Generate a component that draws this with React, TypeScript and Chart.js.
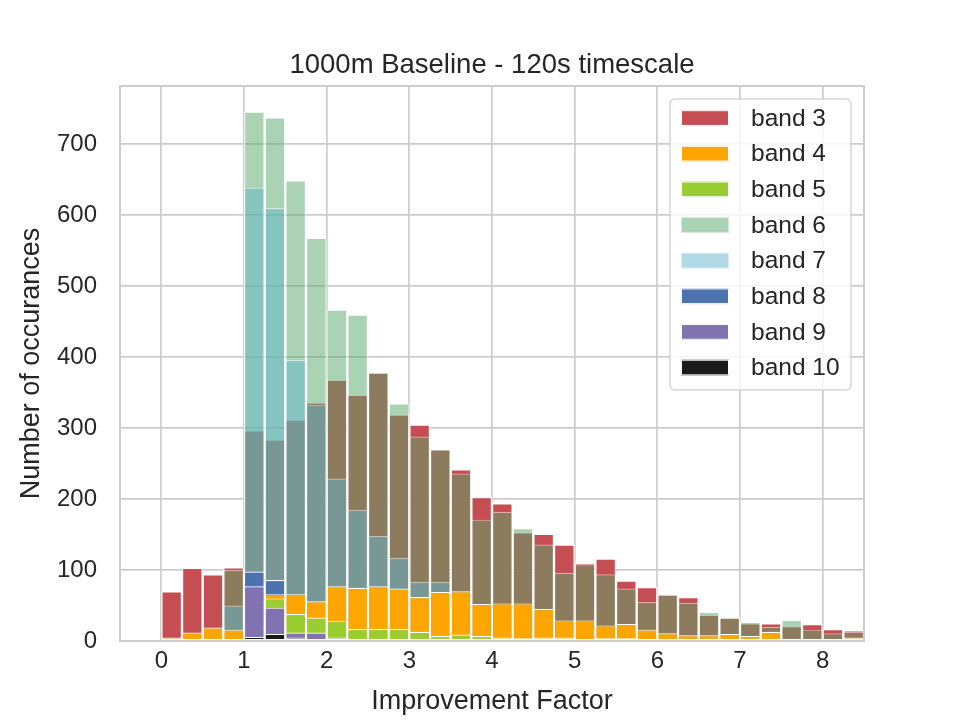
import { useEffect, useRef } from "react";
import { Chart, registerables } from "chart.js";

Chart.register(...registerables);

// ---- data (histogram bins of width 0.25, starting at 0) ----
const binCenters = [
  0.125, 0.375, 0.625, 0.875, 1.125, 1.375, 1.625, 1.875, 2.125, 2.375, 2.625, 2.875,
  3.125, 3.375, 3.625, 3.875, 4.125, 4.375, 4.625, 4.875, 5.125, 5.375, 5.625, 5.875,
  6.125, 6.375, 6.625, 6.875, 7.125, 7.375, 7.625, 7.875, 8.125, 8.375,
];
const xTickValues = [0, 1, 2, 3, 4, 5, 6, 7, 8];
const yTickValues = [0, 100, 200, 300, 400, 500, 600, 700];

const bandLabels = ["band 3", "band 4", "band 5", "band 6", "band 7", "band 8", "band 9", "band 10"];

const band3 = [70, 103, 94, 104, 297, 284, 312, 336, 368, 347, 378, 319, 305, 270, 242, 203, 194, 153, 151, 136, 110, 116, 85, 76, 65, 62, 37, 33, 25, 25, 21, 24, 17, 15];
const band4 = [5, 12, 19, 16, 55, 66, 66, 56, 77, 75, 77, 74, 62, 69, 70, 52, 53, 53, 45, 29, 29, 22, 24, 16, 11, 8, 8, 10, 7, 13, 0, 0, 0, 5];
const band5 = [0, 0, 0, 0, 20, 60, 38, 33, 28, 17, 17, 17, 13, 7, 9, 7, 5, 4, 5, 5, 0, 4, 4, 0, 0, 0, 0, 0, 0, 0, 0, 0, 0, 0];
const band6 = [0, 0, 0, 100, 746, 738, 649, 568, 467, 460, 379, 335, 288, 270, 236, 171, 182, 159, 136, 96, 108, 94, 74, 55, 66, 54, 41, 33, 27, 20, 30, 16, 11, 13];
const band7 = [0, 0, 0, 50, 639, 610, 396, 333, 229, 185, 148, 117, 83, 83, 0, 0, 0, 0, 0, 0, 0, 0, 0, 0, 0, 0, 0, 0, 0, 0, 0, 0, 0, 0];
const band8 = [0, 0, 0, 0, 98, 86, 0, 0, 0, 0, 0, 0, 0, 0, 0, 0, 0, 0, 0, 0, 0, 0, 0, 0, 0, 0, 0, 0, 0, 0, 0, 0, 0, 0];
const band9 = [0, 0, 0, 0, 77, 47, 12, 12, 5, 0, 0, 0, 0, 0, 0, 0, 0, 0, 0, 0, 0, 0, 0, 0, 0, 0, 0, 0, 0, 0, 0, 0, 0, 0];
const band10 = [0, 0, 0, 0, 6, 10, 5, 0, 0, 0, 0, 0, 0, 0, 0, 0, 0, 0, 0, 0, 0, 0, 0, 0, 0, 0, 0, 0, 0, 0, 0, 0, 0, 0];

const bandValues = [band3, band4, band5, band6, band7, band8, band9, band10];

const bandColors = [
  "rgb(196,78,82)",
  "rgb(255,165,0)",
  "rgb(154,205,50)",
  "rgba(85,168,104,0.5)",
  "rgba(100,181,205,0.5)",
  "rgb(76,114,176)",
  "rgb(129,114,178)",
  "rgb(26,26,26)",
];
const bandEdgeColors = [
  "#ffffff",
  "#ffffff",
  "#ffffff",
  "rgba(255,255,255,0.5)",
  "rgba(255,255,255,0.5)",
  "#ffffff",
  "#ffffff",
  "#ffffff",
];
// Chart.js draw order: lower number is drawn on top
const bandDrawOrder = [7, 3, 2, 6, 5, 4, 1, 0];

const FONT = "'Liberation Sans', Arial, Helvetica, sans-serif";
const TEXT = "#262626";
const GRID = "#cccccc";

const framePlugin = {
  id: "frame",
  afterDatasetsDraw(chart: any) {
    const { ctx, chartArea } = chart;
    ctx.save();
    ctx.strokeStyle = GRID;
    ctx.lineWidth = 2;
    ctx.strokeRect(chartArea.left, chartArea.top, chartArea.right - chartArea.left, chartArea.bottom - chartArea.top);
    ctx.restore();
  },
};

const boxLegendPlugin = {
  id: "boxLegend",
  afterDraw(chart: any) {
    const { ctx, chartArea } = chart;
    const boxW = 181;
    const boxH = 291;
    const x0 = chartArea.right - 13 - boxW;
    const y0 = chartArea.top + 13;
    ctx.save();
    ctx.beginPath();
    if ((ctx as any).roundRect) {
      (ctx as any).roundRect(x0, y0, boxW, boxH, 5);
    } else {
      ctx.rect(x0, y0, boxW, boxH);
    }
    ctx.fillStyle = "rgba(255,255,255,0.8)";
    ctx.fill();
    ctx.strokeStyle = "rgba(204,204,204,0.8)";
    ctx.lineWidth = 1.5;
    ctx.stroke();
    const rowH = 35.64;
    chart.data.datasets.forEach((ds: any, i: number) => {
      const cy = y0 + 19 + i * rowH;
      ctx.fillStyle = ds.backgroundColor;
      ctx.fillRect(x0 + 11, cy - 7.8, 48, 15.7);
      ctx.strokeStyle = ds.borderColor;
      ctx.lineWidth = 1;
      ctx.strokeRect(x0 + 11.5, cy - 7.3, 47, 14.7);
      ctx.fillStyle = TEXT;
      ctx.font = `24.5px ${FONT}`;
      ctx.textBaseline = "middle";
      ctx.textAlign = "left";
      ctx.fillText(ds.label, x0 + 81, cy + 1);
    });
    ctx.restore();
  },
};

export default function App() {
  const canvasRef = useRef<HTMLCanvasElement>(null);

  useEffect(() => {
    document.body.style.margin = "0";
    const canvas = canvasRef.current;
    if (!canvas) return;

    const datasets = bandValues.map((vals, i) => ({
      label: bandLabels[i],
      data: vals.map((v, j) => ({ x: binCenters[j], y: v === 0 ? null : v })),
      backgroundColor: bandColors[i],
      borderColor: bandEdgeColors[i],
      borderWidth: 1.2,
      borderSkipped: false as any,
      inflateAmount: 0,
      grouped: false,
      barPercentage: 1,
      categoryPercentage: 1,
      order: bandDrawOrder[i],
    }));

    const chart = new Chart(canvas, {
      type: "bar",
      data: { datasets: datasets as any },
      plugins: [framePlugin, boxLegendPlugin],
      options: {
        responsive: false,
        animation: false,
        events: [],
        layout: { padding: { left: 0, right: 96, top: 0, bottom: 0 } },
        plugins: {
          legend: { display: false },
          tooltip: { enabled: false },
          title: {
            display: true,
            text: "1000m Baseline - 120s timescale",
            fullSize: false,
            color: TEXT,
            font: { family: FONT, size: 27.5, weight: "normal", lineHeight: 1.2 },
            padding: { top: 49, bottom: 4 },
          },
        },
        scales: {
          x: {
            type: "linear",
            min: -0.5,
            max: 8.5,
            offset: false,
            grid: { color: GRID, lineWidth: 1.7, drawTicks: false, offset: false },
            border: { display: false },
            ticks: {
              padding: 6,
              color: TEXT,
              font: { family: FONT, size: 24 },
              autoSkip: false,
              maxRotation: 0,
            },
            afterBuildTicks: (scale: any) => {
              scale.ticks = xTickValues.map((v) => ({ value: v }));
            },
            afterFit: (scale: any) => {
              scale.height = 79;
            },
            title: {
              display: true,
              text: "Improvement Factor",
              color: TEXT,
              font: { family: FONT, size: 27, lineHeight: 1.2 },
              padding: { top: 0, bottom: 2 },
            },
          },
          y: {
            type: "linear",
            min: 0,
            max: 782,
            grid: { color: GRID, lineWidth: 1.7, drawTicks: false },
            border: { display: false },
            ticks: {
              padding: 23,
              color: TEXT,
              font: { family: FONT, size: 24 },
            },
            afterBuildTicks: (scale: any) => {
              scale.ticks = yTickValues.map((v) => ({ value: v }));
            },
            afterFit: (scale: any) => {
              scale.width = 120;
            },
            title: {
              display: true,
              text: "Number of occurances",
              color: TEXT,
              font: { family: FONT, size: 27, lineHeight: 1.2 },
              padding: { top: 15, bottom: 0 },
            },
          },
        },
      } as any,
    });

    return () => chart.destroy();
  }, []);

  return (
    <div style={{ position: "absolute", left: 0, top: 0, width: 960, height: 720 }}>
      <canvas ref={canvasRef} width={960} height={720} style={{ display: "block", width: 960, height: 720 }} />
    </div>
  );
}
